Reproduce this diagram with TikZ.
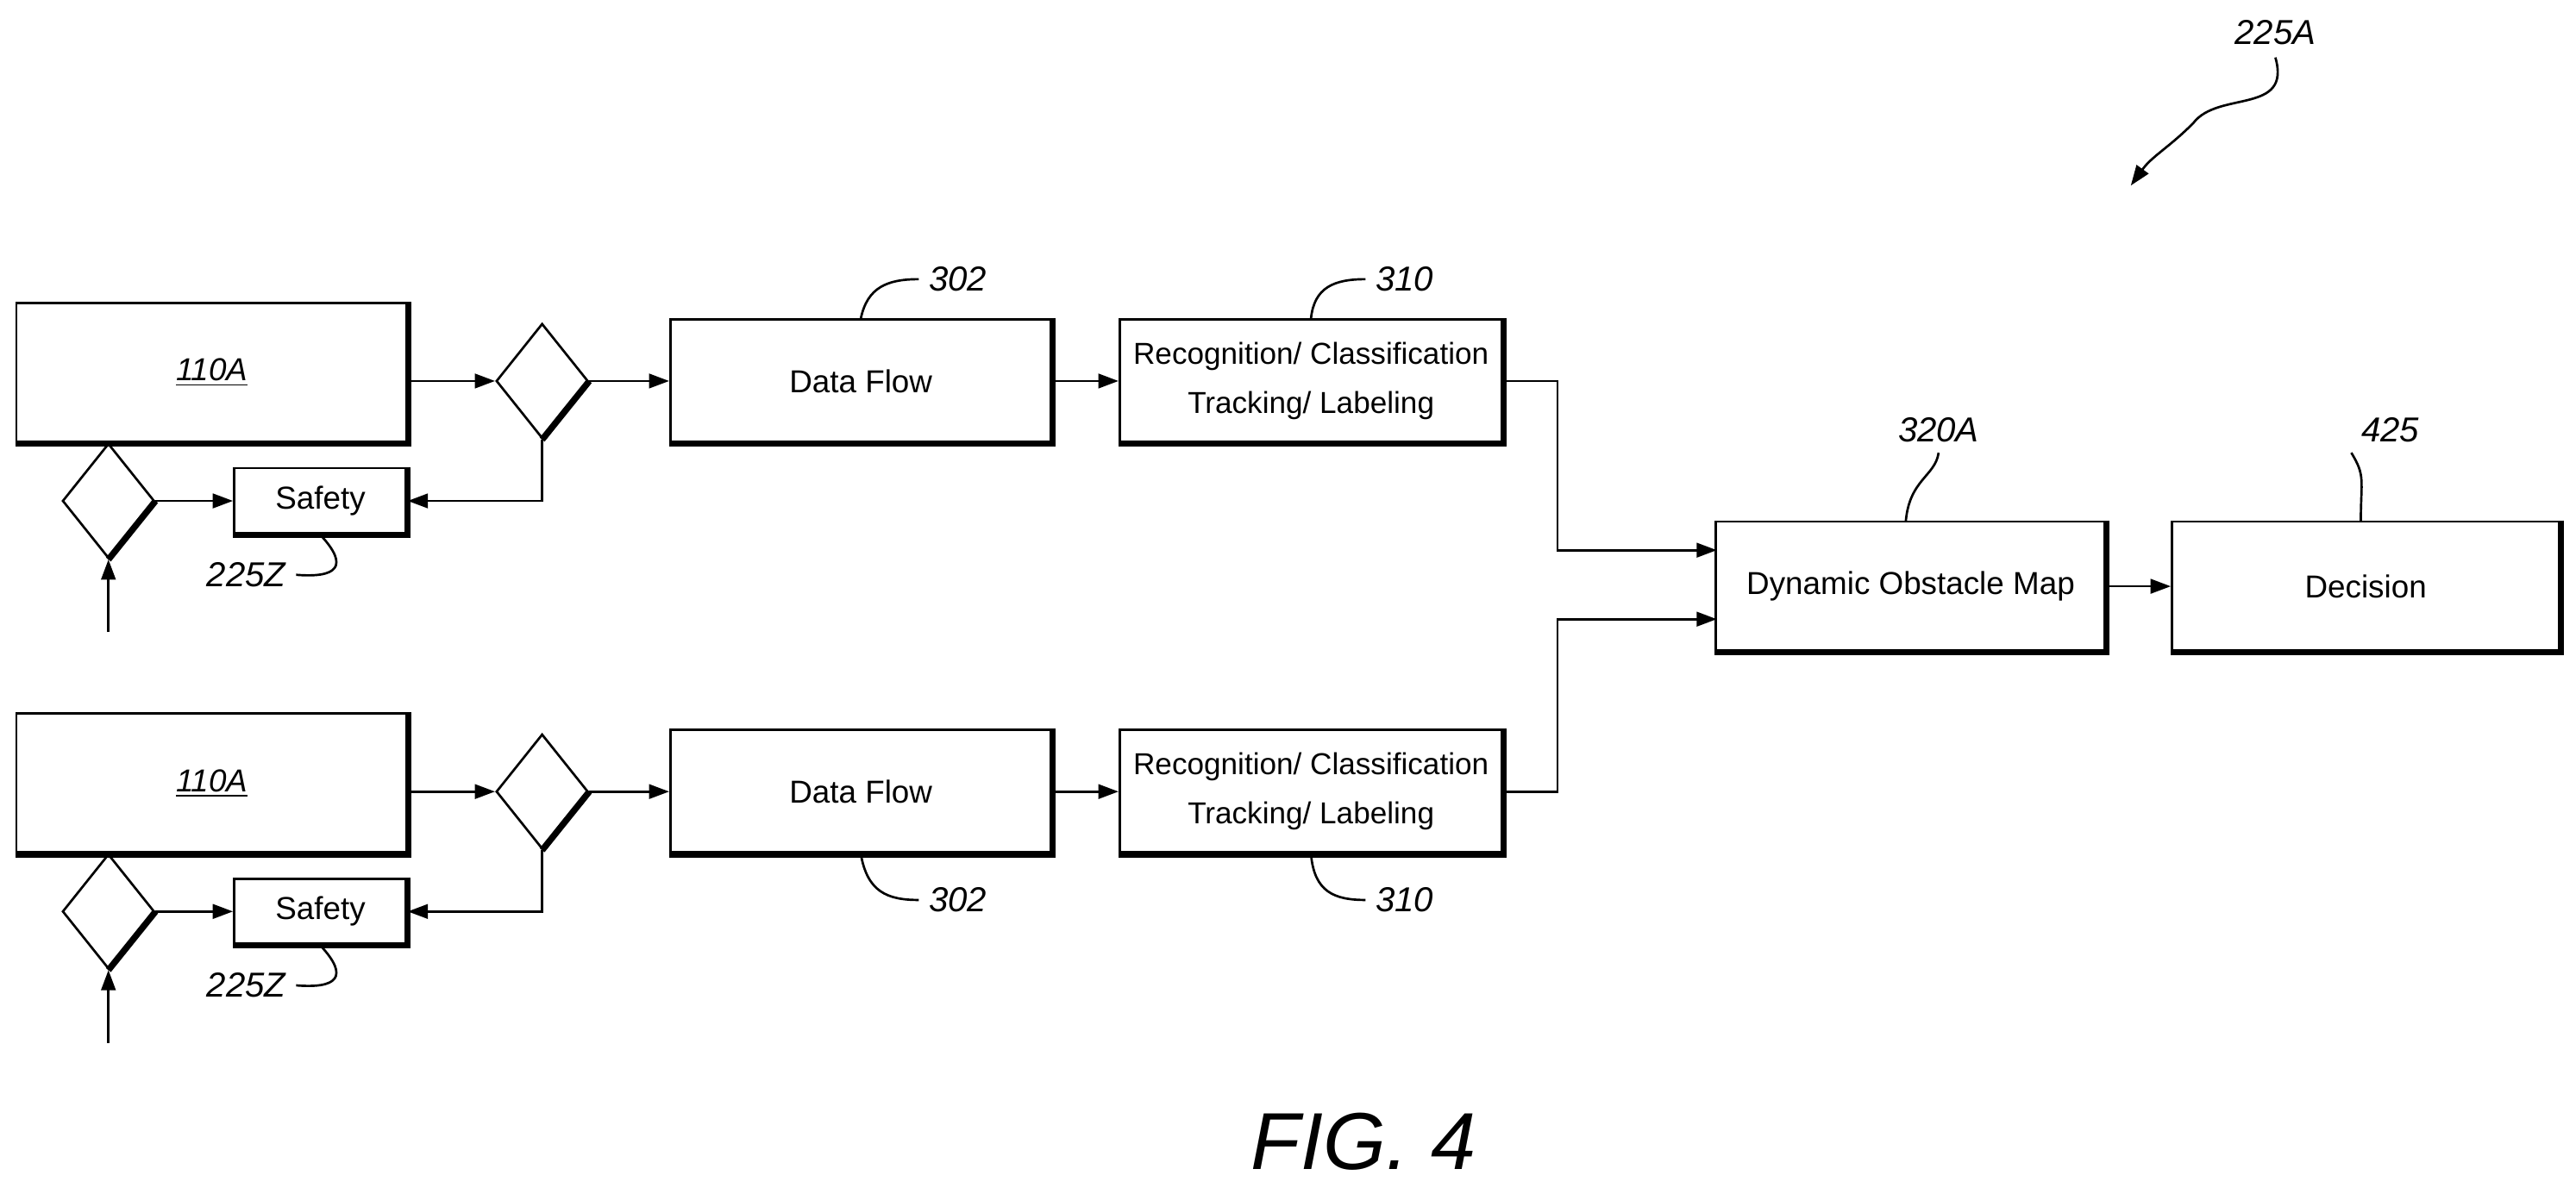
\documentclass[tikz,border=0pt]{standalone}
\usepackage{fontspec}
\setmainfont{Liberation Sans}
\usetikzlibrary{shapes.geometric,arrows.meta}
\tikzset{
  box/.style={draw, line width=0.8pt, inner sep=0pt, font=\fontsize{11}{13}\selectfont, align=center},
  dia/.style={draw, diamond, line width=0.8pt, minimum width=1.12cm, minimum height=1.4cm, inner sep=0pt},
  flow/.style={line width=0.8pt, -{Triangle[length=7pt,width=5pt]}},
  shade/.style={line width=2.2pt},
  ref/.style={font=\fontsize{12}{14}\selectfont\itshape},
  lead/.style={line width=0.8pt}
}
\begin{document}
\begin{tikzpicture}[x=0.02cm, y=-0.02cm]
\useasboundingbox (0,0) rectangle (1568,727);
% two identical rows
\foreach \r/\dy in {a/0, b/250}{
  \begin{scope}[yshift=-\dy*0.02cm]
  \node[box, minimum width=4.76cm, minimum height=1.7cm] (sens\r) at (129,227) {\underline{\textit{110A}}};
  \node[dia] (div\r) at (330,232) {};
  \node[box, minimum width=4.64cm, minimum height=1.5cm] (flow\r) at (524,232) {Data Flow};
  \node[box, minimum width=4.66cm, minimum height=1.5cm, font=\fontsize{10.5}{17}\selectfont] (rec\r) at (798,232) {Recognition/ Classification\\Tracking/ Labeling};
  \node[box, minimum width=2.1cm, minimum height=0.8cm] (safe\r) at (195,305) {Safety};
  \node[dia] (sw\r) at (66,305) {};
  \coordinate (in\r) at (66,385);
  % shading
  \draw[shade] (sens\r.north east) |- (sens\r.south west);
  \draw[shade] (flow\r.north east) |- (flow\r.south west);
  \draw[shade] (rec\r.north east) |- (rec\r.south west);
  \draw[shade] (safe\r.north east) |- (safe\r.south west);
  \draw[shade] (div\r.east) -- (div\r.south);
  \draw[shade] (sw\r.east) -- (sw\r.south);
  % arrows
  \draw[flow] (sens\r.east |- div\r) -- (div\r.west);
  \draw[flow] (div\r.east) -- (flow\r.west);
  \draw[flow] (flow\r.east) -- (rec\r.west);
  \draw[flow] (div\r.south) |- (safe\r.east);
  \draw[flow] (sw\r.east) -- (safe\r.west);
  \draw[flow] (in\r) -- (sw\r.south);
  % references
  \node[ref] (safelbl\r) at (150,350) {225Z};
  \draw[lead] (safelbl\r.east) .. controls (205,352) and (213,345) .. (safe\r.south);
  \end{scope}
}
\node[ref] (flowlbla) at (583,170) {302};
\draw[lead] (flowlbla.west) .. controls (540,170) and (528,175) .. (flowa.north);
\node[ref] (reclbla) at (855,170) {310};
\draw[lead] (reclbla.west) .. controls (812,170) and (800,175) .. (reca.north);
\node[ref] (flowlblb) at (583,548) {302};
\draw[lead] (flowlblb.west) .. controls (540,548) and (528,543) .. (flowb.south);
\node[ref] (reclblb) at (855,548) {310};
\draw[lead] (reclblb.west) .. controls (812,548) and (800,543) .. (recb.south);
% map and decision
\node[box, minimum width=4.74cm, minimum height=1.58cm] (map) at (1163,357) {Dynamic Obstacle Map};
\node[box, minimum width=4.72cm, minimum height=1.58cm] (dec) at (1440,357) {Decision};
\draw[shade] (map.north east) |- (map.south west);
\draw[shade] (dec.north east) |- (dec.south west);
\draw[flow] (reca.east) -- (948,232) |- (1045,335);
\draw[flow] (recb.east) -- (948,482) |- (1045,377);
\draw[flow] (map.east) -- (dec.west);
\node[ref] (maplbl) at (1180,262) {320A};
\draw[lead] (maplbl.south) .. controls (1178,290) and (1162,292) .. (1160,318);
\node[ref] (declbl) at (1455,262) {425};
\draw[lead] (declbl.south west) .. controls (1440,290) and (1437,292) .. (1437,318);
\node[ref] (fig) at (1385,20) {225A};
\coordinate (figtip) at (1297,113);
\draw[flow] (1385,35) .. controls (1395,70) and (1350,55) .. (1335,75) .. controls (1320,90) and (1310,95) .. (figtip);
\node[font=\fontsize{28}{32}\selectfont\itshape] (title) at (830,695) {FIG. 4};
\end{tikzpicture}
\end{document}
